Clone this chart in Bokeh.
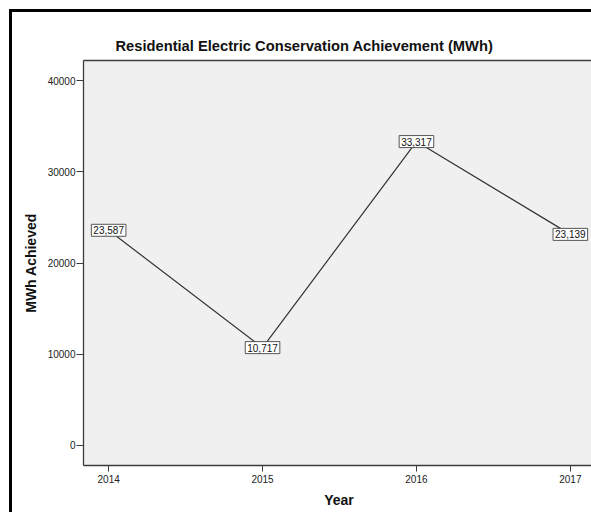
from bokeh.plotting import figure
from bokeh.models import Range1d, FixedTicker, LinearAxis, Label
from bokeh.embed import file_html
from bokeh.resources import INLINE

years = [2014, 2015, 2016, 2017]
mwh = [23587, 10717, 33317, 23139]
y_ticks = [0, 10000, 20000, 30000, 40000]
title_text = "Residential Electric Conservation Achievement (MWh)"
x_label = "Year"
y_label = "MWh Achieved"

FONT = "Liberation Sans"
DARK = "#3c3c3c"

p = figure(width=582, height=503, output_backend="svg", toolbar_location=None,
           x_range=Range1d(2013.8366, 2017.157), y_range=Range1d(-2210, 42210),
           min_border_left=71, min_border_top=48, min_border_bottom=50, min_border_right=0)
p.styles = {"margin-left": "9px", "margin-top": "9px", "box-sizing": "border-box",
            "border-left": "3px solid black", "border-top": "3px solid black"}

p.title.text = title_text
p.title.text_font = FONT
p.title.text_font_size = "14.7px"
p.title.text_font_style = "bold"
p.title.text_color = "#111111"
p.title.align = "left"
p.title.offset = 32
p.title.standoff = 14

p.background_fill_color = "#f0f0f0"
p.border_fill_color = "white"
p.outline_line_color = None
p.grid.visible = False

for ax in (p.xaxis[0], p.yaxis[0]):
    ax.axis_line_color = DARK
    ax.axis_line_width = 1.3
    ax.major_tick_line_color = DARK
    ax.major_tick_in = 0
    ax.minor_tick_line_color = None
    ax.major_label_text_font = FONT
    ax.major_label_text_font_size = "10px"
    ax.major_label_text_color = "#222222"
    ax.axis_label_text_font = FONT
    ax.axis_label_text_font_size = "14px"
    ax.axis_label_text_font_style = "bold"
    ax.axis_label_text_color = "#111111"

p.xaxis.ticker = FixedTicker(ticks=years)
p.xaxis.major_tick_out = 6
p.xaxis.major_label_standoff = 3
p.xaxis.axis_label = x_label
p.xaxis.axis_label_standoff = 6

p.yaxis.ticker = FixedTicker(ticks=y_ticks)
p.yaxis.major_tick_out = 7
p.yaxis.major_label_standoff = 1
p.yaxis.axis_label = y_label
p.yaxis.axis_label_standoff = 6

top = LinearAxis(ticker=FixedTicker(ticks=[]), axis_line_color=DARK, axis_line_width=1.3,
                 major_tick_out=0, major_tick_in=0, minor_tick_out=0, minor_tick_in=0,
                 major_label_standoff=0, major_label_text_font_size="0px")
p.add_layout(top, "above")

p.line(years, mwh, line_color="#333333", line_width=1.2)

for x, y in zip(years, mwh):
    p.add_layout(Label(x=x, y=y, text=f"{y:,}", text_align="center", text_baseline="middle",
                       text_font=FONT, text_font_size="10px", text_color="#111111",
                       background_fill_color="white", border_line_color="#555555",
                       border_line_width=1, padding=2))

open("out.html", "w").write(file_html(p, INLINE))
